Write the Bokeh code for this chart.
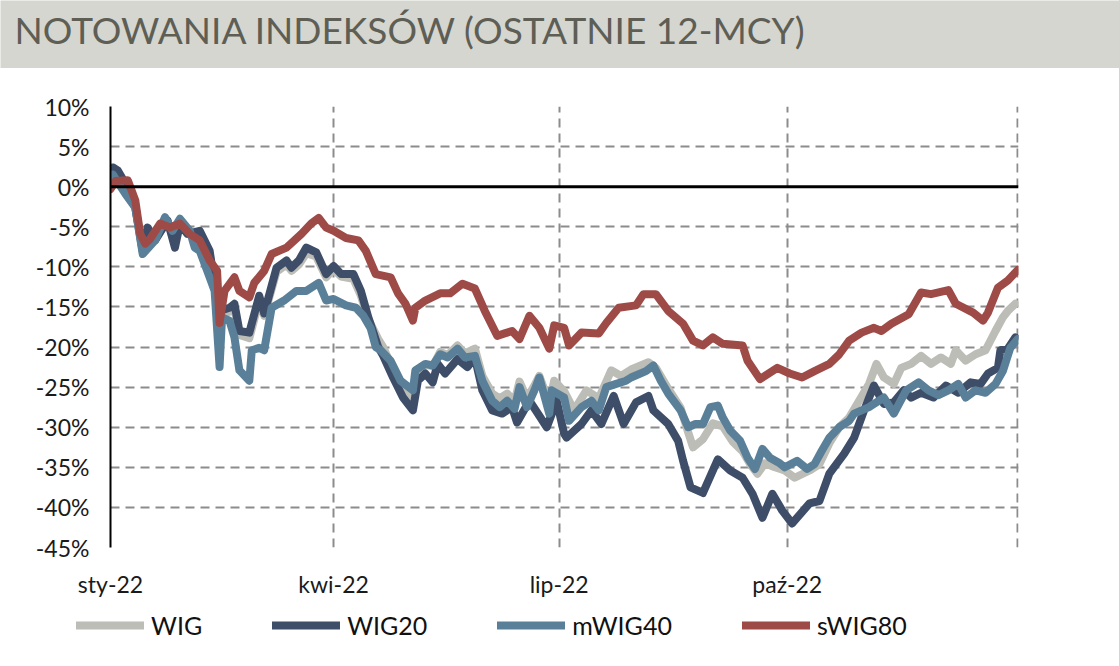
from bokeh.plotting import figure
from bokeh.models import (Range1d, FixedTicker, PrintfTickFormatter, Span, Legend,
                          LegendItem, Label, ColumnDataSource)
from bokeh.layouts import column
from bokeh.embed import file_html
from bokeh.resources import INLINE

# ---- data (days since 2022-01-01, % change) ----
tick_days = [0, 90, 181, 273]
tick_labels = ["sty-22", "kwi-22", "lip-22", "paź-22"]
y_ticks = [10, 5, 0, -5, -10, -15, -20, -25, -30, -35, -40, -45]

wig_days = [0, 1, 6, 10, 13, 18, 23, 26, 28, 32, 36, 40, 42, 44, 48, 50, 52, 56, 60, 62, 67, 71, 73, 76, 79, 83, 87, 90,
            93, 98, 101, 104, 108, 110, 114, 118, 122, 124, 127, 130, 133, 136, 140, 143, 147, 150, 154, 157, 160, 163,
            165, 168, 171, 173, 177, 179, 183, 187, 192, 197, 202, 206, 210, 217, 220, 225, 230, 233, 235, 239, 243, 247,
            251, 255, 258, 261, 264, 268, 272, 276, 282, 286, 290, 294, 298, 302, 306, 309, 312, 316, 319, 323, 327, 331,
            335, 339, 341, 345, 349, 353, 357, 360, 362, 365]
wig_vals = [0.5, 2.0, 0.2, -2.6, -8.2, -6.6, -4.3, -7.2, -4.8, -5.7, -6.2, -8.4, -12.4, -16.0, -15.6, -15.2, -18.5, -18.9,
            -14.2, -16.1, -10.6, -9.7, -10.5, -9.7, -8.3, -8.7, -11.3, -10.3, -11.2, -11.5, -13.6, -16.5, -19.0, -20.0,
            -22.8, -25.2, -26.4, -23.0, -22.2, -22.4, -20.6, -21.0, -19.8, -20.8, -20.2, -23.6, -25.8, -26.4, -25.8,
            -26.8, -24.3, -26.4, -24.8, -23.6, -27.0, -24.2, -25.5, -27.9, -25.4, -26.4, -22.9, -23.6, -22.8, -21.9,
            -22.6, -25.2, -27.6, -30.6, -32.5, -31.5, -29.5, -29.9, -31.8, -33.0, -34.6, -35.8, -34.5, -35.0, -35.4,
            -36.3, -35.4, -34.6, -32.0, -30.0, -28.8, -26.7, -24.6, -22.1, -23.8, -24.6, -22.6, -22.1, -21.1, -22.1,
            -21.3, -22.1, -20.4, -21.7, -20.9, -20.4, -18.0, -16.3, -15.5, -14.6]

wig20_days = [0, 1, 3, 6, 10, 13, 15, 18, 23, 26, 28, 31, 36, 40, 42, 44, 48, 50, 52, 56, 60, 62, 67, 71, 73, 76, 79, 83,
              87, 90, 93, 98, 101, 104, 108, 110, 114, 118, 122, 124, 127, 130, 132, 135, 140, 144, 147, 150, 154, 158,
              162, 164, 169, 172, 176, 180, 183, 184, 190, 194, 198, 203, 207, 212, 217, 219, 225, 229, 231, 234, 239,
              245, 250, 255, 259, 263, 267, 271, 275, 282, 286, 290, 296, 300, 304, 308, 312, 316, 320, 323, 327, 332,
              337, 342, 347, 351, 354, 358, 359, 362, 365]
wig20_vals = [1.0, 2.4, 2.0, 0.4, -2.6, -8.0, -5.1, -6.7, -4.2, -7.6, -4.6, -5.9, -5.5, -8.0, -12.1, -15.5, -15.1, -14.6,
              -18.0, -18.2, -13.6, -15.8, -10.1, -9.2, -10.1, -9.2, -7.6, -8.2, -10.9, -9.9, -10.9, -10.9, -13.0, -16.3,
              -20.0, -21.1, -23.8, -26.3, -27.9, -24.2, -23.3, -24.4, -22.1, -23.3, -21.5, -22.5, -21.3, -25.4, -27.9,
              -28.3, -27.5, -29.4, -26.7, -28.1, -30.0, -26.7, -30.8, -31.3, -29.6, -27.9, -29.6, -26.1, -29.6, -26.9,
              -26.1, -27.9, -29.6, -31.7, -34.2, -37.5, -38.2, -34.0, -35.4, -36.3, -38.3, -41.3, -38.3, -40.4, -42.0,
              -39.5, -39.2, -35.8, -33.3, -31.3, -27.9, -24.8, -27.1, -26.9, -25.4, -26.3, -25.7, -26.3, -24.8, -25.7,
              -24.4, -24.6, -23.3, -22.6, -20.4, -20.2, -18.8]

mwig40_days = [0, 1, 6, 10, 13, 18, 22, 25, 28, 32, 34, 36, 40, 42, 44, 45, 48, 50, 52, 56, 57, 60, 62, 65, 70, 75, 79,
               84, 87, 90, 95, 99, 102, 105, 107, 109, 113, 117, 122, 123, 127, 130, 133, 136, 140, 143, 147, 150, 154,
               157, 160, 163, 165, 168, 171, 173, 177, 178, 183, 185, 190, 194, 197, 200, 204, 208, 210, 216, 219, 222,
               225, 230, 233, 236, 239, 242, 245, 247, 250, 254, 257, 260, 263, 266, 270, 272, 277, 281, 284, 287, 290,
               294, 298, 300, 306, 308, 312, 316, 321, 326, 330, 334, 338, 342, 345, 349, 353, 357, 360, 363, 366]
mwig40_vals = [0.5, 1.5, -0.9, -2.6, -8.4, -6.7, -3.8, -5.5, -4.0, -5.5, -7.6, -8.0, -11.3, -13.0, -22.5, -16.3, -16.7,
               -18.8, -22.9, -24.2, -20.4, -20.1, -20.4, -15.1, -14.2, -13.0, -13.0, -12.0, -14.2, -14.0, -14.8, -15.1,
               -16.1, -17.7, -20.0, -20.4, -21.7, -24.2, -25.4, -22.9, -22.1, -22.3, -20.9, -21.3, -20.2, -21.3, -21.1,
               -24.2, -26.7, -27.5, -26.7, -27.7, -25.0, -27.5, -25.4, -23.8, -28.3, -25.4, -26.3, -29.2, -27.5, -26.7,
               -27.9, -25.0, -24.6, -24.2, -23.8, -23.0, -22.3, -24.2, -25.8, -27.9, -30.0, -29.6, -29.6, -27.5, -27.3,
               -28.8, -30.4, -31.7, -33.8, -35.2, -32.7, -33.8, -34.5, -35.0, -34.2, -35.2, -34.6, -32.9, -31.3, -30.0,
               -29.2, -28.3, -27.5, -27.1, -26.3, -28.3, -25.4, -24.4, -25.4, -26.0, -25.4, -24.6, -26.3, -25.4, -25.7,
               -24.6, -23.0, -20.1, -19.0]

swig80_days = [0, 2, 7, 10, 12, 14, 16, 20, 24, 28, 32, 36, 40, 43, 44, 46, 50, 52, 56, 58, 62, 65, 71, 77, 81, 84, 87,
               90, 95, 100, 103, 107, 113, 116, 119, 122, 123, 127, 133, 137, 142, 147, 151, 156, 159, 162, 165, 169,
               173, 177, 179, 183, 185, 190, 197, 200, 205, 212, 215, 220, 225, 231, 235, 239, 243, 247, 255, 257, 262,
               269, 274, 279, 284, 290, 294, 298, 303, 308, 311, 315, 322, 327, 331, 338, 341, 348, 352, 354, 358, 362,
               366]
swig80_vals = [-0.3, 0.7, 0.8, -1.7, -5.9, -7.1, -6.5, -4.6, -5.1, -4.6, -5.9, -6.7, -9.2, -10.5, -17.0, -13.0, -11.3,
               -13.0, -13.8, -12.0, -10.5, -8.4, -7.6, -5.9, -4.6, -3.9, -5.1, -5.5, -6.4, -6.7, -8.0, -10.9, -11.3,
               -13.3, -14.6, -16.7, -15.1, -14.2, -13.3, -13.3, -12.1, -12.7, -15.5, -18.6, -18.3, -18.0, -19.0, -16.1,
               -17.6, -20.2, -17.3, -17.6, -19.8, -18.2, -18.3, -17.0, -15.1, -14.8, -13.4, -13.4, -15.5, -17.1, -19.2,
               -19.8, -18.8, -19.6, -19.8, -21.7, -24.0, -22.6, -23.3, -23.8, -23.0, -22.1, -20.9, -19.2, -18.2, -17.6,
               -18.0, -17.1, -15.9, -13.2, -13.4, -12.9, -14.6, -15.7, -16.7, -15.7, -12.6, -11.7, -10.4]

series = [
    ("WIG", wig_days, wig_vals, "#bcbdb6"),
    ("WIG20", wig20_days, wig20_vals, "#3e4e69"),
    ("mWIG40", mwig40_days, mwig40_vals, "#5a8099"),
    ("sWIG80", swig80_days, swig80_vals, "#9e4b48"),
]

FONT = "Lato"
W = 1119
LW = 8


def blank_fig(height, fill, xr, yr):
    f = figure(width=W, height=height, toolbar_location=None, output_backend="svg",
               x_range=xr, y_range=yr,
               x_axis_location=None, y_axis_location=None,
               min_border_left=0, min_border_right=0, min_border_top=0, min_border_bottom=0)
    f.frame_align = False
    f.grid.visible = False
    f.outline_line_color = None
    f.background_fill_color = fill
    f.border_fill_color = fill
    return f


# ---- title bar ----
bar_color = "#d5d6d0"
tfig = blank_fig(68, bar_color, Range1d(0, W), Range1d(0, 68))
tfig.add_layout(Label(x=14, y=39, text="NOTOWANIA INDEKSÓW (OSTATNIE 12-MCY)",
                      text_font=FONT, text_font_size="37px", text_color="#5e5e55",
                      text_baseline="middle", text_align="left"))

# ---- main chart ----
p = figure(width=W, height=532, toolbar_location=None, output_backend="svg",
           x_range=Range1d(0, 366.3), y_range=Range1d(-45, 10),
           min_border_left=110, min_border_right=101, min_border_top=38, min_border_bottom=53)
p.frame_width = 908
p.frame_height = 441
p.outline_line_color = None
p.background_fill_color = "white"
p.border_fill_color = "white"

p.ygrid.ticker = FixedTicker(ticks=[t for t in y_ticks if t != 0])
p.ygrid.grid_line_color = "#8c8c8c"
p.ygrid.grid_line_width = 2
p.ygrid.grid_line_dash = "9 6"
p.xgrid.ticker = FixedTicker(ticks=[90, 181, 273, 366])
p.xgrid.grid_line_color = "#8c8c8c"
p.xgrid.grid_line_width = 2
p.xgrid.grid_line_dash = "9 6"

p.yaxis.ticker = FixedTicker(ticks=y_ticks)
p.yaxis.formatter = PrintfTickFormatter(format="%d%%")
p.yaxis.axis_line_color = "black"
p.yaxis.axis_line_width = 2
p.yaxis.major_tick_line_color = None
p.yaxis.major_tick_out = 0
p.yaxis.minor_tick_line_color = None
p.yaxis.major_label_standoff = 21
p.yaxis.major_label_text_font = FONT
p.yaxis.major_label_text_font_size = "23px"
p.yaxis.major_label_text_color = "#1a1a1a"

p.xaxis.ticker = FixedTicker(ticks=tick_days)
p.xaxis.major_label_overrides = {d: l for d, l in zip(tick_days, tick_labels)}
p.xaxis.axis_line_color = None
p.xaxis.major_tick_line_color = None
p.xaxis.minor_tick_line_color = None
p.xaxis.major_label_standoff = 16
p.xaxis.major_label_text_font = FONT
p.xaxis.major_label_text_font_size = "23px"
p.xaxis.major_label_text_color = "#1a1a1a"

p.add_layout(Span(location=0, dimension="width", line_color="black", line_width=3))

# legend strip: same sources drawn off-range so only the legend samples show
lfig = blank_fig(66, "white", Range1d(1000, 2000), Range1d(1000, 2000))
items = []
for name, d, v, c in series:
    src = ColumnDataSource(dict(x=d, y=v))
    p.line("x", "y", source=src, line_color=c, line_width=LW,
           line_join="round", line_cap="round")
    lr = lfig.line("x", "y", source=src, line_color=c, line_width=LW, line_cap="round")
    items.append(LegendItem(label=name, renderers=[lr]))

legend = Legend(items=items, orientation="horizontal", location=(76, 26),
                glyph_width=68, glyph_height=20, label_standoff=7, spacing=70,
                padding=0, margin=0, border_line_color=None, background_fill_alpha=0,
                label_text_font=FONT, label_text_font_size="25px",
                label_text_color="#111111")
lfig.add_layout(legend, "center")

layout = column(tfig, p, lfig, spacing=0)
open("out.html", "w").write(file_html(layout, INLINE))
